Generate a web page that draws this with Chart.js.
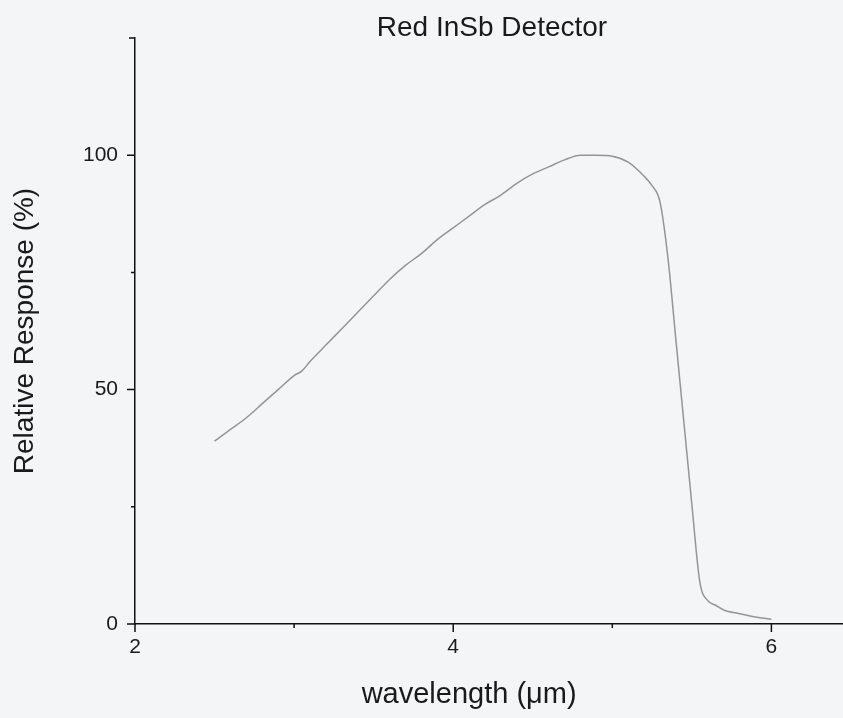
<!DOCTYPE html>
<html>
<head>
<meta charset="utf-8">
<script src="https://cdn.jsdelivr.net/npm/chart.js@4"></script>
<style>
  html, body { margin: 0; padding: 0; background: #f4f5f7; overflow: hidden; }
  #wrap { width: 843px; height: 718px; position: relative; }
</style>
</head>
<body>
<div id="wrap"><canvas id="myChart"></canvas></div>
<script>
    // data
    const wavelength = [2.5, 2.6, 2.7, 2.8, 2.9, 3.0, 3.05, 3.1, 3.2, 3.3, 3.4, 3.5, 3.6, 3.7, 3.8, 3.9,
      4.0, 4.1, 4.2, 4.3, 4.4, 4.5, 4.6, 4.7, 4.8, 4.9, 5.0, 5.1, 5.2, 5.25, 5.3, 5.35, 5.4, 5.45,
      5.5, 5.55, 5.6, 5.65, 5.7, 5.8, 5.9, 6.0];
    const response = [39, 41.5, 44, 47, 50, 53, 54, 56, 59.5, 63, 66.5, 70, 73.5, 76.5, 79, 82,
      84.5, 87, 89.5, 91.5, 94, 96, 97.5, 99, 100, 100, 99.8, 98.5, 95.5, 93.5, 90, 78, 60.5, 43,
      25.5, 9, 5, 4, 3, 2.2, 1.5, 1];

    const xTicks = [2, 3, 4, 5, 6];
    const xLabels = [2, 4, 6];
    const yTicks = [0, 25, 50, 75, 100, 125];
    const yLabels = [0, 50, 100];

    const chartTitle = 'Red InSb Detector';
    const xTitle = 'wavelength (\u03BCm)';
    const yTitle = 'Relative Response (%)';

    const FONT = "'Liberation Sans', Arial, sans-serif";

    const data = {
      datasets: [{
        label: 'Relative Response',
        data: wavelength.map((w, i) => ({ x: w, y: response[i] })),
        borderColor: '#959595',
        borderWidth: 1.5,
        pointRadius: 0,
        fill: false,
        cubicInterpolationMode: 'monotone'
      }]
    };

    // background, tick marks and text
    const decor = {
      id: 'decor',
      beforeDraw(chart) {
        const { ctx, width, height } = chart;
        ctx.save();
        ctx.fillStyle = '#f4f5f7';
        ctx.fillRect(0, 0, width, height);
        ctx.restore();
      },
      afterDraw(chart) {
        const { ctx, chartArea: { top, bottom, left, right }, scales: { x, y } } = chart;
        ctx.save();
        ctx.strokeStyle = '#111';
        ctx.lineWidth = 1.5;
        ctx.beginPath();
        xTicks.forEach(v => {
          const px = x.getPixelForValue(v);
          const len = xLabels.includes(v) ? 8 : 4;
          ctx.moveTo(px, bottom);
          ctx.lineTo(px, bottom + len);
        });
        yTicks.forEach(v => {
          const py = y.getPixelForValue(v);
          const len = yLabels.includes(v) ? 8 : (v === 125 ? 6 : 4);
          ctx.moveTo(left, py);
          ctx.lineTo(left - len, py);
        });
        ctx.stroke();

        ctx.fillStyle = '#1a1a1a';
        ctx.textAlign = 'center';
        ctx.textBaseline = 'middle';
        ctx.font = '28px ' + FONT;
        ctx.fillText(chartTitle, (left + right) / 2 + 3, 28);
        ctx.font = '29px ' + FONT;
        ctx.fillText(xTitle, x.getPixelForValue(4.1), 695);
        ctx.restore();
      }
    };

    const config = {
      type: 'line',
      data,
      options: {
        responsive: true,
        maintainAspectRatio: false,
        animation: false,
        layout: { padding: { top: 38, right: 0, left: 0, bottom: 0 } },
        scales: {
          x: {
            type: 'linear',
            min: 2,
            max: 6.45,
            afterBuildTicks: s => { s.ticks = xLabels.map(v => ({ value: v })); },
            afterFit: s => { s.height = 94; },
            grid: { display: true, drawOnChartArea: false, drawTicks: false },
            border: { color: '#111', width: 1.5 },
            ticks: {
              padding: 11,
              color: '#1a1a1a',
              font: { family: FONT, size: 21 }
            }
          },
          y: {
            min: 0,
            max: 125,
            afterBuildTicks: s => { s.ticks = yLabels.map(v => ({ value: v })); },
            afterFit: s => { s.width = 135; },
            grid: { display: true, drawOnChartArea: false, drawTicks: false },
            border: { color: '#111', width: 1.5 },
            ticks: {
              padding: 17,
              color: '#1a1a1a',
              font: { family: FONT, size: 21 }
            },
            title: {
              display: true,
              text: yTitle,
              color: '#1a1a1a',
              font: { family: FONT, size: 28 },
              padding: { top: 8, bottom: 0 }
            }
          }
        },
        plugins: {
          legend: { display: false },
          tooltip: { enabled: false },
          title: { display: false }
        }
      },
      plugins: [decor]
    };

    const myChart = new Chart(
      document.getElementById('myChart'),
      config
    );
</script>
</body>
</html>
